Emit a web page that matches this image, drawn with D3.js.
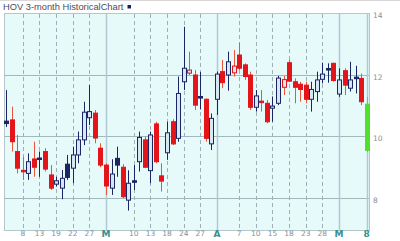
<!DOCTYPE html>
<meta charset="utf-8">
<style>
body { margin: 0; background: #fff; }
.ylab { font: 7.5px "DejaVu Sans", sans-serif; fill: #8a8f96; }
.xlab { font: 7.5px "DejaVu Sans", sans-serif; fill: #7f9497; }
.xmon { font: bold 9px "DejaVu Sans", sans-serif; fill: #3a8e8e; }
</style>
<body>
<div id="chart"></div>
<script src="https://d3js.org/d3.v7.min.js"></script>
<script>
// trading days, Feb 5 - May 8 2008
var dates = ["02-05","02-06","02-07","02-08","02-11","02-12","02-13","02-14","02-15","02-19",
             "02-20","02-21","02-22","02-25","02-26","02-27","02-28","02-29","03-03","03-04",
             "03-05","03-06","03-07","03-10","03-11","03-12","03-13","03-14","03-17","03-18",
             "03-19","03-20","03-24","03-25","03-26","03-27","03-28","03-31","04-01","04-02",
             "04-03","04-04","04-07","04-08","04-09","04-10","04-11","04-14","04-15","04-16",
             "04-17","04-18","04-21","04-22","04-23","04-24","04-25","04-28","04-29","04-30",
             "05-01","05-02","05-05","05-06","05-07","05-08"];

var open  = [10.50,10.54, 9.51, 8.90, 8.80, 9.27, 9.30, 9.51, 8.75, 8.45,
              8.32, 9.10, 8.97, 9.40, 9.89,10.61,10.76, 9.62, 9.07, 8.32,
              9.29, 9.00, 7.93, 8.56, 9.18, 9.89, 8.89,10.41, 8.72, 9.47,
             10.48, 9.94,11.78,12.06,12.00,11.30,11.21, 9.76,11.21,12.11,
             12.00,12.07,12.65,12.33,12.00,10.95,11.15,11.08,10.92,11.08,
             11.60,12.40,11.78,11.70,11.67,11.21,11.46,11.86,12.21,12.38,
             11.38,12.14,11.57,11.93,11.89,11.05];
var high  = [11.51,10.97,10.05, 9.34, 9.45, 9.83, 9.51, 9.62, 9.07, 8.69,
              8.91, 9.40, 9.67,10.16,11.13,11.67,10.86, 9.78, 9.13, 9.26,
              9.67, 9.10, 8.90, 9.07,10.16,10.00,10.16,10.48, 9.13,10.48,
             10.56,11.95,13.57,12.76,12.16,12.10,11.24,10.75,12.11,12.49,
             12.76,12.81,13.05,12.38,12.11,11.51,11.51,11.19,11.30,11.97,
             11.97,12.49,11.89,11.78,11.78,11.78,12.11,12.40,12.38,12.40,
             12.22,12.22,12.43,12.30,12.05,11.29];
var low   = [10.31, 9.51, 8.80, 8.59, 8.59, 8.69, 8.69, 8.86, 8.26, 8.37,
              7.96, 8.59, 8.48, 9.13, 9.72,10.37, 9.78, 9.00, 8.10, 8.10,
              8.69, 8.00, 7.59, 8.26, 8.86, 8.97, 8.48, 9.13, 8.21, 9.24,
              9.72, 9.83,11.51,12.00,10.86,10.88, 9.83, 9.56,10.70,11.57,
             11.49,11.95,12.16,11.84,10.86,10.81,10.81,10.43,10.48,11.02,
             11.35,11.78,11.08,11.13,11.08,10.81,11.13,11.73,11.75,11.78,
             11.29,11.35,11.46,11.40,11.02, 9.50];
var close = [10.42, 9.83, 8.97, 8.88, 9.18, 9.00, 9.28, 8.94, 8.32, 8.56,
              8.64, 8.67, 9.40, 9.89,10.79,10.81, 9.95, 9.07, 8.39, 8.78,
              9.07, 8.04, 8.48, 8.53, 9.97, 9.00,10.05, 9.18, 8.55,10.12,
              9.76,11.40,12.22,12.16,11.02,11.25, 9.94,10.59,12.03,11.75,
             12.43,12.29,12.22,11.95,10.95,11.32,11.12,10.48,10.99,11.90,
             11.85,11.80,11.60,11.53,11.21,11.53,11.84,12.03,12.17,11.82,
             11.84,11.67,11.84,11.88,11.13, 9.55];

var yTicks = [8, 10, 12, 14];
var dayTicks = ["02-08","02-13","02-19","02-22","02-27","03-10","03-13","03-18","03-24","03-27",
                "04-07","04-10","04-15","04-18","04-23","04-28"];
var dayLabels = ["8","13","19","22","27","10","13","18","24","27","7","10","15","18","23","28"];
var monthTicks = ["03-03","04-01","05-01","05-08"];
var monthLabels = ["M","A","M","8"];

var W = 400, H = 241;
var plot = {left: 4, right: 369, top: 13, bottom: 230};

var svg = d3.select("#chart").append("svg")
    .attr("width", W)
    .attr("height", H);

var x = d3.scalePoint().domain(dates).range([6.2, 366.7]);
var y = d3.scaleLinear().domain([7, 14]).range([228.75, 13.5]);

// title
svg.append("line")
   .attr("x1", 0).attr("x2", W).attr("y1", 0.5).attr("y2", 0.5)
   .attr("stroke", "#d8d8d8");
svg.append("text")
   .attr("x", 3).attr("y", 10)
   .attr("font-family", "Liberation Sans, Arial, sans-serif")
   .attr("font-size", "9.3px")
   .attr("fill", "#4a4e5a")
   .text("HOV 3-month HistoricalChart");
svg.append("rect")
   .attr("x", 127.5).attr("y", 5).attr("width", 3.5).attr("height", 3.5)
   .attr("fill", "#15226a");

// plot background
svg.append("rect")
   .attr("x", plot.left + 0.5).attr("y", plot.top + 0.5)
   .attr("width", plot.right - plot.left).attr("height", plot.bottom - plot.top)
   .attr("fill", "#e6fafa")
   .attr("stroke", "#b4c8cc");

// horizontal grid
svg.append("g").selectAll("line")
   .data(yTicks.filter(function(d) { return d < 14; }))
   .enter().append("line")
   .attr("x1", plot.left).attr("x2", plot.right)
   .attr("y1", function(d) { return Math.round(y(d)) + 0.5; })
   .attr("y2", function(d) { return Math.round(y(d)) + 0.5; })
   .attr("stroke", "#a3b8bc");

// day gridlines, dashed
svg.append("g").selectAll("line")
   .data(dayTicks)
   .enter().append("line")
   .attr("x1", function(d) { return Math.round(x(d)) + 0.5; })
   .attr("x2", function(d) { return Math.round(x(d)) + 0.5; })
   .attr("y1", plot.top + 1).attr("y2", plot.bottom)
   .attr("stroke", "#9fb0b4")
   .attr("stroke-dasharray", "4,3");

// month gridlines, solid
svg.append("g").selectAll("line")
   .data(monthTicks)
   .enter().append("line")
   .attr("x1", function(d) { return Math.round(x(d)) + 0.5; })
   .attr("x2", function(d) { return Math.round(x(d)) + 0.5; })
   .attr("y1", plot.top + 1).attr("y2", plot.bottom)
   .attr("stroke", "#b0c8d2")
   .attr("stroke-width", 1.5);

// y labels
svg.append("g").selectAll("text")
   .data(yTicks)
   .enter().append("text")
   .attr("class", "ylab")
   .attr("x", 373)
   .attr("y", function(d) { return y(d) + 4.5; })
   .text(function(d) { return d; });

// x labels
svg.append("g").selectAll("text")
   .data(dayTicks)
   .enter().append("text")
   .attr("class", "xlab")
   .attr("x", function(d) { return x(d); })
   .attr("y", 236)
   .attr("text-anchor", "middle")
   .text(function(d, i) { return dayLabels[i]; });

svg.append("g").selectAll("text")
   .data(monthTicks)
   .enter().append("text")
   .attr("class", "xmon")
   .attr("x", function(d) { return x(d); })
   .attr("y", 236.5)
   .attr("text-anchor", "middle")
   .text(function(d, i) { return monthLabels[i]; });

// candles
var data = dates.map(function(d, i) {
  return {date: d, o: open[i], h: high[i], l: low[i], c: close[i],
          prev: i > 0 ? close[i - 1] : close[i], last: i == dates.length - 1};
});

var RED = "#e3141a", NAVY = "#1b2563", GREEN = "#4ee02a";

function col(d) {
  if (d.last) return GREEN;
  return d.c < d.prev ? RED : NAVY;
}
function wickCol(d) {
  if (d.last) return GREEN;
  return d.c < d.prev ? "#e8553a" : NAVY;
}

var bw = 4;
var candle = svg.append("g").selectAll("g")
   .data(data)
   .enter().append("g");

candle.append("line")
   .attr("x1", function(d) { return Math.round(x(d.date)) + 0.5; })
   .attr("x2", function(d) { return Math.round(x(d.date)) + 0.5; })
   .attr("y1", function(d) { return y(d.h); })
   .attr("y2", function(d) { return y(d.l); })
   .attr("stroke", wickCol);

candle.append("rect")
   .attr("x", function(d) { return Math.round(x(d.date)) - bw / 2 + 0.5; })
   .attr("y", function(d) { return y(Math.max(d.o, d.c)); })
   .attr("width", bw)
   .attr("height", function(d) { return Math.max(1.5, Math.abs(y(d.o) - y(d.c))); })
   .attr("fill", function(d) {
     if (d.last) return GREEN;
     return d.c < d.o ? col(d) : "#d6e6f2";
   })
   .attr("stroke", col)
   .attr("stroke-width", 1);
</script>
</body>
